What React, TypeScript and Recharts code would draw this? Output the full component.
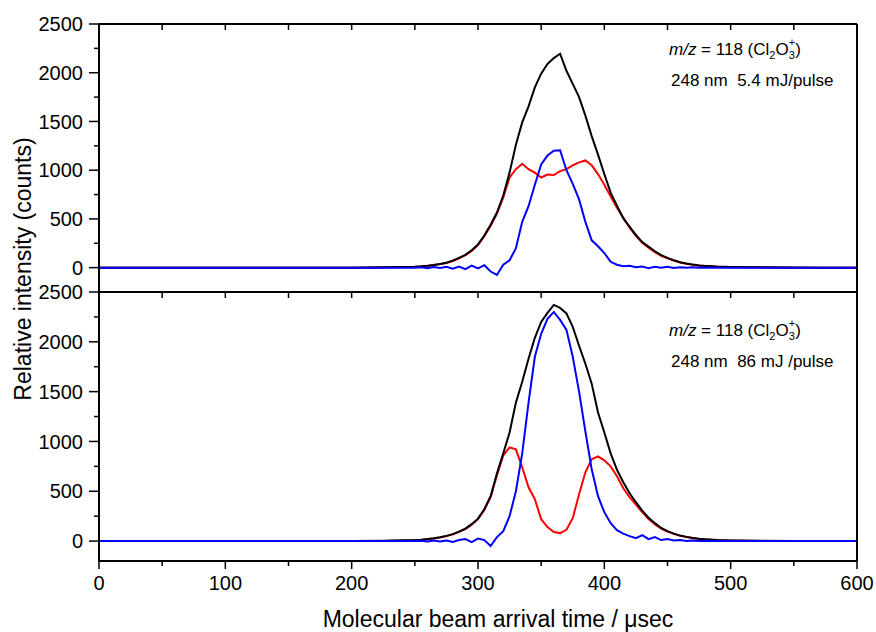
import React from 'react';
import { LineChart, Line, XAxis, YAxis } from 'recharts';

// arrival time (usec)
const times = [
  0, 50, 100, 150, 200, 225,
  250, 255, 260, 265, 270, 275, 280, 285, 290, 295,
  300, 305, 310, 315, 320, 325, 330, 335, 340, 345,
  350, 355, 360, 365, 370, 375, 380, 385, 390, 395,
  400, 405, 410, 415, 420, 425, 430, 435, 440, 445,
  450, 455, 460, 465, 470, 475, 480, 485, 490, 495,
  500, 525, 550, 575, 600,
];

// upper panel: 5.4 mJ/pulse
const topBlack = [
  0, 0, 0, 0, 0, 3,
  10, 14, 20, 28, 38, 50, 72, 100, 132, 178,
  238, 330, 440, 565, 740, 975, 1260, 1490, 1655, 1850,
  1990, 2090, 2150, 2195, 2020, 1885, 1750, 1560, 1350, 1160,
  960, 770, 635, 505, 420, 335, 262, 215, 168, 128,
  100, 76, 56, 42, 31, 23, 18, 14, 10, 8,
  6, 3, 1, 0, 0,
];
const topRed = [
  0, 0, 0, 0, 0, 2,
  8, 12, 18, 26, 36, 48, 68, 96, 128, 172,
  232, 322, 430, 555, 720, 925, 1010, 1065, 1010, 975,
  925, 955, 950, 990, 1010, 1050, 1080, 1100, 1050, 960,
  850, 730, 615, 515, 410, 325, 255, 205, 160, 122,
  95, 72, 53, 40, 29, 22, 17, 13, 9, 7,
  5, 2, 0, 0, 0,
];
const topBlue = [
  0, 0, 0, 0, 0, 0,
  0, 3, -5, 6, -4, 8, -10, 12, -15, 20,
  -8, 25, -40, -75, 30, 75, 200, 470, 630, 850,
  1060, 1150, 1200, 1205, 1000, 860, 700, 470, 280, 220,
  150, 60, 30, 15, 20, 5, 12, -5, 10, 0,
  8, -4, 5, 0, 3, 0, 2, 0, 0, 0,
  0, 0, 0, 0, 0,
];

// lower panel: 86 mJ/pulse
const bottomBlack = [
  0, 0, 0, 0, 0, 3,
  10, 14, 20, 28, 38, 52, 70, 95, 125, 170,
  225, 320, 450, 680, 880, 1090, 1390, 1600, 1830, 2040,
  2200, 2290, 2370, 2340, 2285, 2150, 1960, 1780, 1580, 1290,
  1090, 880, 716, 590, 480, 390, 305, 235, 180, 132,
  100, 75, 55, 42, 32, 24, 18, 14, 10, 8,
  6, 3, 1, 0, 0,
];
const bottomRed = [
  0, 0, 0, 0, 0, 2,
  8, 12, 18, 26, 36, 50, 67, 92, 120, 165,
  220, 312, 440, 660, 860, 940, 920, 740, 540, 420,
  220, 140, 90, 80, 113, 230, 470, 690, 820, 850,
  810, 750, 650, 530, 440, 365, 290, 222, 170, 125,
  95, 72, 52, 40, 30, 22, 17, 13, 9, 7,
  5, 2, 0, 0, 0,
];
const bottomBlue = [
  0, 0, 0, 0, 0, 0,
  0, 2, -4, 5, -3, 6, -8, 10, 20, -10,
  25, 10, -50, 40, 100, 250, 500, 880, 1390, 1850,
  2080, 2230, 2300, 2220, 2120, 1850, 1500, 1100, 720, 450,
  290, 180, 110, 75, 50, 30, 60, 20, 40, 10,
  20, 5, 10, 0, 5, 0, 3, 0, 0, 0,
  0, 0, 0, 0, 0,
];

const xTicks = [0, 50, 100, 150, 200, 250, 300, 350, 400, 450, 500, 550, 600];
const yTicks = [0, 250, 500, 750, 1000, 1250, 1500, 1750, 2000, 2250, 2500];

const W = 876;
const H = 632;
const FONT = '"Liberation Sans", Arial, Helvetica, sans-serif';

const buildRows = (black: number[], red: number[], blue: number[]) =>
  times.map((t, i) => ({ t, black: black[i], red: red[i], blue: blue[i] }));

const BottomTick = ({ x, y, payload }: any) => {
  const major = payload.value % 100 === 0;
  return (
    <g>
      <line x1={x} x2={x} y1={y} y2={y + (major ? 8 : 5)} stroke="#000" strokeWidth={1.5} />
      {major && (
        <text x={x} y={y + 29} textAnchor="middle" fontSize={20} fontFamily={FONT} fill="#000">
          {payload.value}
        </text>
      )}
    </g>
  );
};

const TopTick = ({ x, y }: any) => (
  <line x1={x} x2={x} y1={y} y2={y + 6} stroke="#000" strokeWidth={1.5} />
);

const LeftTick = ({ x, y, payload }: any) => {
  const major = payload.value % 500 === 0;
  return (
    <g>
      <line x1={x - (major ? 10 : 5)} x2={x} y1={y} y2={y} stroke="#000" strokeWidth={1.5} />
      {major && (
        <text x={x - 16} y={y} dy="0.36em" textAnchor="end" fontSize={20} fontFamily={FONT} fill="#000">
          {payload.value}
        </text>
      )}
    </g>
  );
};

const RightTick = ({ x, y }: any) => (
  <line x1={x - 6} x2={x} y1={y} y2={y} stroke="#000" strokeWidth={1.5} />
);

const axisLine = { stroke: '#000', strokeWidth: 2 };

interface PanelProps {
  data: any[];
  top: number;
  bottom: number;
  domain: [number, number];
  labels: boolean;
}

// axes are 1px thick so the plot edges stay where the margins put them
const Panel: React.FC<PanelProps> = ({ data, top, bottom, domain, labels }) => (
  <div style={{ position: 'absolute', left: 0, top: 0 }}>
    <LineChart width={W} height={H} data={data} margin={{ top: top - 1, right: 18, bottom: H - bottom - 1, left: 98 }}>
      <XAxis
        xAxisId="b"
        dataKey="t"
        type="number"
        domain={[0, 600]}
        ticks={xTicks}
        interval={0}
        height={1}
        tickSize={0}
        tickMargin={0}
        axisLine={axisLine}
        tickLine={false}
        tick={labels ? <BottomTick /> : false}
      />
      <XAxis
        xAxisId="t"
        orientation="top"
        dataKey="t"
        type="number"
        domain={[0, 600]}
        ticks={xTicks}
        interval={0}
        height={1}
        tickSize={0}
        tickMargin={0}
        axisLine={axisLine}
        tickLine={false}
        tick={<TopTick />}
      />
      <YAxis
        yAxisId="l"
        type="number"
        domain={domain}
        ticks={yTicks}
        interval={0}
        width={1}
        tickSize={0}
        tickMargin={0}
        axisLine={axisLine}
        tickLine={false}
        tick={<LeftTick />}
      />
      <YAxis
        yAxisId="r"
        orientation="right"
        type="number"
        domain={domain}
        ticks={yTicks}
        interval={0}
        width={1}
        tickSize={0}
        tickMargin={0}
        axisLine={axisLine}
        tickLine={false}
        tick={<RightTick />}
      />
      <Line xAxisId="b" yAxisId="l" type="linear" dataKey="red" stroke="#ff0000" strokeWidth={2} dot={false} isAnimationActive={false} />
      <Line xAxisId="b" yAxisId="l" type="linear" dataKey="black" stroke="#000000" strokeWidth={2} dot={false} isAnimationActive={false} />
      <Line xAxisId="b" yAxisId="l" type="linear" dataKey="blue" stroke="#0000ff" strokeWidth={2} dot={false} isAnimationActive={false} />
    </LineChart>
  </div>
);

const Annotation = ({ y, energy }: { y: number; energy: string }) => (
  <g fontFamily={FONT} fill="#000">
    <text x={669} y={y} fontSize={17}>
      <tspan fontStyle="italic">m/z</tspan>
      <tspan> = 118 (Cl</tspan>
      <tspan dy={4} fontSize={11}>2</tspan>
      <tspan dy={-4}>O</tspan>
      <tspan dy={4} fontSize={11}>3</tspan>
      <tspan dx={-6} dy={-13} fontSize={11}>+</tspan>
      <tspan dy={9}>)</tspan>
    </text>
    <text x={671} y={y + 31} fontSize={17} style={{ whiteSpace: 'pre' }}>
      {energy}
    </text>
  </g>
);

export default function App() {
  const topRows = buildRows(topBlack, topRed, topBlue);
  const bottomRows = buildRows(bottomBlack, bottomRed, bottomBlue);
  return (
    <div style={{ position: 'absolute', left: 0, top: 0, width: W, height: H, background: '#fff' }}>
      <Panel data={topRows} top={24} bottom={292} domain={[-250, 2500]} labels={false} />
      <Panel data={bottomRows} top={292} bottom={561} domain={[-200, 2500]} labels={true} />
      <svg width={W} height={H} style={{ position: 'absolute', left: 0, top: 0, pointerEvents: 'none' }}>
        <Annotation y={55} energy="248 nm  5.4 mJ/pulse" />
        <Annotation y={336} energy="248 nm  86 mJ /pulse" />
        <text x={498} y={627} textAnchor="middle" fontSize={23} fontFamily={FONT} fill="#000">
          Molecular beam arrival time / μsec
        </text>
        <text
          x={0}
          y={0}
          transform="translate(31 269) rotate(-90)"
          textAnchor="middle"
          fontSize={23}
          fontFamily={FONT}
          fill="#000"
        >
          Relative intensity (counts)
        </text>
      </svg>
    </div>
  );
}
